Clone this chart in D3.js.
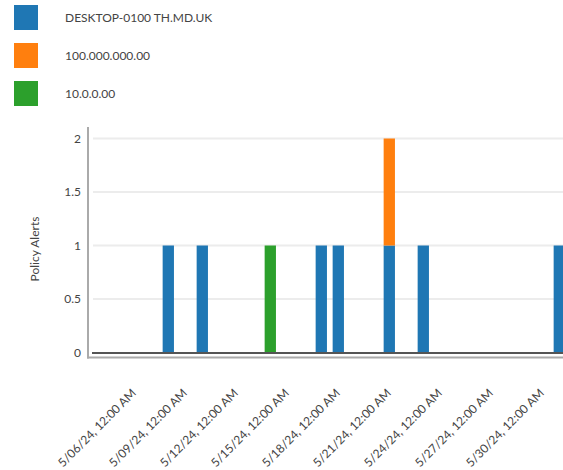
<!DOCTYPE html>
<html>
<head>
<meta charset="utf-8">
<script src="https://cdn.jsdelivr.net/npm/d3@7"></script>
<style>
  html, body { margin: 0; padding: 0; background: #fff; }
  svg { display: block; font-family: Lato, "Open Sans", sans-serif; }
</style>
</head>
<body>
<svg id="chart" width="563" height="470"></svg>
<script>
// Daily policy alert counts per source
const days = ["2024-05-08", "2024-05-10", "2024-05-14", "2024-05-17", "2024-05-18", "2024-05-21", "2024-05-23", "2024-05-31"];
const seriesNames = ["DESKTOP-0100 TH.MD.UK", "100.000.000.00", "10.0.0.00"];
const desktopAlerts = [1, 1, 0, 1, 1, 1, 1, 1];
const ipAlertsA = [0, 0, 0, 0, 0, 1, 0, 0];
const ipAlertsB = [0, 0, 1, 0, 0, 0, 0, 0];
const seriesColors = ["#1f77b4", "#ff7f0e", "#2ca02c"];
const tickDays = ["2024-05-06", "2024-05-09", "2024-05-12", "2024-05-15", "2024-05-18", "2024-05-21", "2024-05-24", "2024-05-27", "2024-05-30"];
const yTicks = [0, 0.5, 1, 1.5, 2];
const domainDays = ["2024-05-03", "2024-05-31"];

const parseDay = d3.timeParse("%Y-%m-%d");
const fmtTick = d3.timeFormat("%-m/%d/%y, %-I:%M %p");

const rows = days.map((d, i) => ({
  date: parseDay(d),
  [seriesNames[0]]: desktopAlerts[i],
  [seriesNames[1]]: ipAlertsA[i],
  [seriesNames[2]]: ipAlertsB[i]
}));

const svg = d3.select("#chart");

const x = d3.scaleTime()
  .domain(domainDays.map(parseDay))
  .range([83.3, 559.3]);
const y = d3.scaleLinear().domain([0, 2]).range([352.5, 138.5]);
const barW = 11.3;

// Horizontal gridlines
svg.append("g")
  .selectAll("line")
  .data(yTicks.filter(v => v > 0))
  .join("line")
  .attr("x1", 93).attr("x2", 563)
  .attr("y1", d => y(d)).attr("y2", d => y(d))
  .attr("stroke", "#ececec").attr("stroke-width", 2);

// Stacked bars
const stack = d3.stack().keys(seriesNames)(rows);
svg.append("g")
  .selectAll("g")
  .data(stack)
  .join("g")
  .attr("fill", (d, i) => seriesColors[i])
  .selectAll("rect")
  .data(d => d.filter(p => p[1] - p[0] > 0))
  .join("rect")
  .attr("x", d => x(d.data.date) - barW / 2)
  .attr("width", barW)
  .attr("y", d => y(d[1]))
  .attr("height", d => y(d[0]) - y(d[1]));

// Zero baseline
svg.append("line")
  .attr("x1", 92).attr("x2", 563)
  .attr("y1", y(0) + 0.5).attr("y2", y(0) + 0.5)
  .attr("stroke", "#555").attr("stroke-width", 2);

// Y axis
const yAxis = svg.append("g")
  .attr("transform", "translate(88,0)")
  .call(d3.axisLeft(y).tickValues(yTicks).tickSize(0).tickPadding(7).tickFormat(d3.format("")));
yAxis.select(".domain").remove();
yAxis.selectAll("text").attr("font-size", 12).attr("fill", "#444").attr("font-family", "Lato, sans-serif");
svg.append("line")
  .attr("x1", 88).attr("x2", 88).attr("y1", 127).attr("y2", 358.5)
  .attr("stroke", "#aaa").attr("stroke-width", 2);

// X axis
svg.append("line")
  .attr("x1", 87).attr("x2", 563).attr("y1", 357.5).attr("y2", 357.5)
  .attr("stroke", "#aaa").attr("stroke-width", 2);
const xAxis = svg.append("g")
  .attr("transform", "translate(0,358)")
  .call(d3.axisBottom(x).tickValues(tickDays.map(parseDay)).tickSize(0).tickFormat(fmtTick));
xAxis.select(".domain").remove();
xAxis.selectAll("text")
  .attr("font-size", 12).attr("fill", "#444").attr("font-family", "Lato, sans-serif")
  .attr("text-anchor", "end")
  .attr("y", 0)
  .attr("dy", "0.35em")
  .attr("transform", "translate(-1,33) rotate(-45)");

// Y axis title
svg.append("text")
  .attr("transform", "translate(39,249) rotate(-90)")
  .attr("text-anchor", "middle")
  .attr("font-size", 12).attr("fill", "#444")
  .text("Policy Alerts");

// Legend
const legend = svg.append("g")
  .selectAll("g")
  .data(seriesNames)
  .join("g")
  .attr("transform", (d, i) => `translate(14,${5 + i * 38})`);
legend.append("rect")
  .attr("width", 24).attr("height", 25)
  .attr("fill", (d, i) => seriesColors[i]);
legend.append("text")
  .attr("x", 51).attr("y", 12.5).attr("dy", "0.35em")
  .attr("font-size", 12).attr("fill", "#444")
  .text(d => d);
</script>
</body>
</html>
